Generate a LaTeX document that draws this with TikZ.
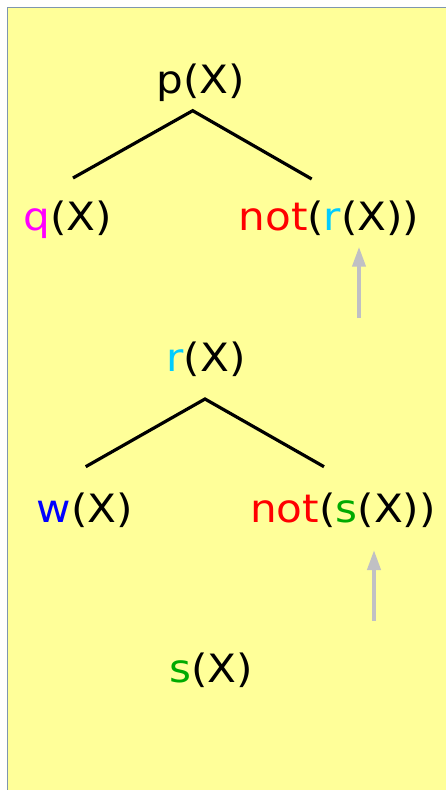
\documentclass[tikz,border=0pt]{standalone}
\usepackage{fontspec}
\setmainfont{DejaVu Sans}[FakeStretch=1.08]
\usetikzlibrary{arrows.meta}
\definecolor{bgyellow}{RGB}{255,255,153}
\definecolor{framec}{RGB}{127,150,175}
\definecolor{cmag}{RGB}{255,0,255}
\definecolor{cred}{RGB}{255,0,0}
\definecolor{ccyan}{RGB}{0,204,255}
\definecolor{cblue}{RGB}{0,0,255}
\definecolor{cgreen}{RGB}{0,170,0}
\definecolor{arrgray}{RGB}{192,192,196}
\begin{document}
\begin{tikzpicture}[x=1pt,y=-1pt,
  term/.style={anchor=base,inner sep=0pt,outer sep=0pt,font=\fontsize{39}{46}\selectfont},
  edge/.style={line width=3.2pt,black},
  arr/.style={line width=4pt,arrgray,-{Triangle[length=20pt,width=13pt]}}]
\useasboundingbox (0,0) rectangle (445,790);
\draw[fill=bgyellow,draw=framec,line width=1pt] (7.5,7.5) rectangle (450,795);
\node[term] (pX) at (201,93) {p(X)};
\node[term] (qX) at (68,230) {\textcolor{cmag}{q}(X)};
\node[term] (nr) at (329,230) {\textcolor{cred}{not}(\textcolor{ccyan}{r}(X))};
\node[term] (rX) at (206,371) {\textcolor{ccyan}{r}(X)};
\node[term] (wX) at (84.7,522) {\textcolor{cblue}{w}(X)};
\node[term] (ns) at (343,522) {\textcolor{cred}{not}(\textcolor{cgreen}{s}(X))};
\node[term] (sX) at (211,682) {\textcolor{cgreen}{s}(X)};
\draw[edge] ([shift={(5,-52)}]qX.base) -- ([shift={(-8.3,17.7)}]pX.base) -- ([shift={(-17.3,-51)}]nr.base);
\draw[edge] ([shift={(1,-55.3)}]wX.base) -- ([shift={(-1,28)}]rX.base) -- ([shift={(-19,-55.3)}]ns.base);
\draw[arr] ([shift={(30,88)}]nr.base) -- ([shift={(30,16.7)}]nr.base);
\draw[arr] ([shift={(31,98.7)}]ns.base) -- ([shift={(31,28)}]ns.base);
\end{tikzpicture}
\end{document}
